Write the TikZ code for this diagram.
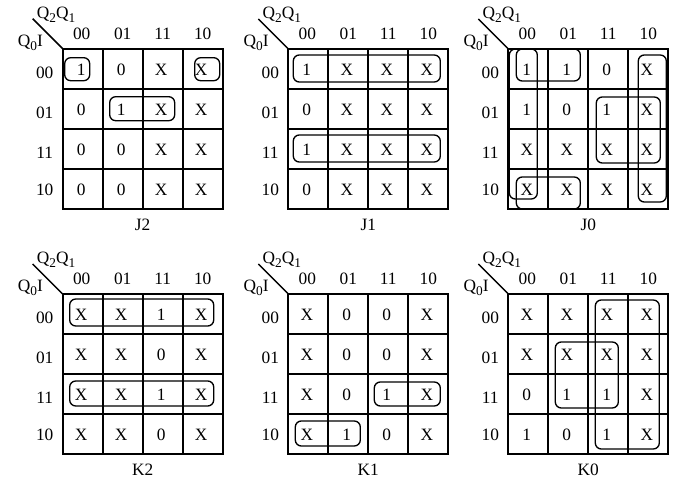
\documentclass[tikz,border=0pt]{standalone}
\usepackage{fontspec}
\setmainfont{Liberation Serif}
\newcommand{\lsub}[1]{\raisebox{-3pt}{\fontsize{10}{12}\selectfont #1}}
\tikzset{val/.style = {inner sep=0pt, font=\fontsize{13}{15}\selectfont},
         gl/.style = {line width=1.5pt},
         lp/.style = {line width=1pt, rounded corners=4.5pt},
         kmap/.pic = {
           \draw[gl] (0,0) rectangle (160,160) (40,0) -- (40,160) (80,0) -- (80,160) (120,0) -- (120,160)
                     (0,40) -- (160,40) (0,80) -- (160,80) (0,120) -- (160,120);
           \draw[line width=1.1pt] (-30,-30) -- (0,0);
           \node[val, anchor=base west] (-top) at (-26,-30) {Q\lsub{2}Q\lsub{1}};
           \node[val, anchor=base west] (-side) at (-45,-2) {Q\lsub{0}I};
           \node[val] (-ca) at (19,-15) {00}; \node[val] (-cb) at (60,-15) {01};
           \node[val] (-cc) at (100,-15) {11}; \node[val] (-cd) at (140,-15) {10};
           \node[val] (-ra) at (-18,24) {00}; \node[val] (-rb) at (-18,64) {01};
           \node[val] (-rc) at (-18,104) {11}; \node[val] (-rd) at (-18,141) {10};
           \node[val] (-t) at (80,176) {#1};
         }}

\begin{document}
\begin{tikzpicture}[x=0.75pt, y=-0.75pt]
  \useasboundingbox (0,0) rectangle (690,488);
  \begin{scope}[shift={(62.7,48.7)}]
    \pic (j2) {kmap=J2};
    \node[val] (j2a) at (18.5,21) {1}; \node[val] (j2b) at (58.5,21) {0}; \node[val] (j2c) at (98.5,21) {X}; \node[val] (j2d) at (138.5,21) {X};
    \node[val] (j2e) at (18.5,61) {0}; \node[val] (j2f) at (58.5,61) {1}; \node[val] (j2g) at (98.5,61) {X}; \node[val] (j2h) at (138.5,61) {X};
    \node[val] (j2i) at (18.5,101) {0}; \node[val] (j2j) at (58.5,101) {0}; \node[val] (j2k) at (98.5,101) {X}; \node[val] (j2l) at (138.5,101) {X};
    \node[val] (j2m) at (18.5,141) {0}; \node[val] (j2n) at (58.5,141) {0}; \node[val] (j2o) at (98.5,141) {X}; \node[val] (j2p) at (138.5,141) {X};
    \draw[lp] (2,9) rectangle (27,32);
    \draw[lp] (132,9) rectangle (157,32);
    \draw[lp] (47,48) rectangle (112,72);
  \end{scope}
  \begin{scope}[shift={(288.3,49)}]
    \pic (j1) {kmap=J1};
    \node[val] (j1a) at (18.5,21) {1}; \node[val] (j1b) at (58.5,21) {X}; \node[val] (j1c) at (98.5,21) {X}; \node[val] (j1d) at (138.5,21) {X};
    \node[val] (j1e) at (18.5,61) {0}; \node[val] (j1f) at (58.5,61) {X}; \node[val] (j1g) at (98.5,61) {X}; \node[val] (j1h) at (138.5,61) {X};
    \node[val] (j1i) at (18.5,101) {1}; \node[val] (j1j) at (58.5,101) {X}; \node[val] (j1k) at (98.5,101) {X}; \node[val] (j1l) at (138.5,101) {X};
    \node[val] (j1m) at (18.5,141) {0}; \node[val] (j1n) at (58.5,141) {X}; \node[val] (j1o) at (98.5,141) {X}; \node[val] (j1p) at (138.5,141) {X};
    \draw[lp] (5,6) rectangle (152,33);
    \draw[lp] (5,86) rectangle (152,113);
  \end{scope}
  \begin{scope}[shift={(508.3,49)}]
    \pic (j0) {kmap=J0};
    \node[val] (j0a) at (18.5,21) {1}; \node[val] (j0b) at (58.5,21) {1}; \node[val] (j0c) at (98.5,21) {0}; \node[val] (j0d) at (138.5,21) {X};
    \node[val] (j0e) at (18.5,61) {1}; \node[val] (j0f) at (58.5,61) {0}; \node[val] (j0g) at (98.5,61) {1}; \node[val] (j0h) at (138.5,61) {X};
    \node[val] (j0i) at (18.5,101) {X}; \node[val] (j0j) at (58.5,101) {X}; \node[val] (j0k) at (98.5,101) {X}; \node[val] (j0l) at (138.5,101) {X};
    \node[val] (j0m) at (18.5,141) {X}; \node[val] (j0n) at (58.5,141) {X}; \node[val] (j0o) at (98.5,141) {X}; \node[val] (j0p) at (138.5,141) {X};
    \draw[lp] (1,0) rectangle (29,150);
    \draw[lp] (8,0) rectangle (72,32);
    \draw[lp] (8,128) rectangle (72,160);
    \draw[lp] (130,6) rectangle (158,153);
    \draw[lp] (88,48) rectangle (152,114);
  \end{scope}
  \begin{scope}[shift={(62.7,294)}]
    \pic (k2) {kmap=K2};
    \node[val] (k2a) at (18.5,21) {X}; \node[val] (k2b) at (58.5,21) {X}; \node[val] (k2c) at (98.5,21) {1}; \node[val] (k2d) at (138.5,21) {X};
    \node[val] (k2e) at (18.5,61) {X}; \node[val] (k2f) at (58.5,61) {X}; \node[val] (k2g) at (98.5,61) {0}; \node[val] (k2h) at (138.5,61) {X};
    \node[val] (k2i) at (18.5,101) {X}; \node[val] (k2j) at (58.5,101) {X}; \node[val] (k2k) at (98.5,101) {1}; \node[val] (k2l) at (138.5,101) {X};
    \node[val] (k2m) at (18.5,141) {X}; \node[val] (k2n) at (58.5,141) {X}; \node[val] (k2o) at (98.5,141) {0}; \node[val] (k2p) at (138.5,141) {X};
    \draw[lp] (7,5) rectangle (151,32);
    \draw[lp] (7,87) rectangle (151,112);
  \end{scope}
  \begin{scope}[shift={(288.3,294)}]
    \pic (k1) {kmap=K1};
    \node[val] (k1a) at (18.5,21) {X}; \node[val] (k1b) at (58.5,21) {0}; \node[val] (k1c) at (98.5,21) {0}; \node[val] (k1d) at (138.5,21) {X};
    \node[val] (k1e) at (18.5,61) {X}; \node[val] (k1f) at (58.5,61) {0}; \node[val] (k1g) at (98.5,61) {0}; \node[val] (k1h) at (138.5,61) {X};
    \node[val] (k1i) at (18.5,101) {X}; \node[val] (k1j) at (58.5,101) {0}; \node[val] (k1k) at (98.5,101) {1}; \node[val] (k1l) at (138.5,101) {X};
    \node[val] (k1m) at (18.5,141) {X}; \node[val] (k1n) at (58.5,141) {1}; \node[val] (k1o) at (98.5,141) {0}; \node[val] (k1p) at (138.5,141) {X};
    \draw[lp] (86,88) rectangle (152,112);
    \draw[lp] (7,127) rectangle (72,152);
  \end{scope}
  \begin{scope}[shift={(508.3,294)}]
    \pic (k0) {kmap=K0};
    \node[val] (k0a) at (18.5,21) {X}; \node[val] (k0b) at (58.5,21) {X}; \node[val] (k0c) at (98.5,21) {X}; \node[val] (k0d) at (138.5,21) {X};
    \node[val] (k0e) at (18.5,61) {X}; \node[val] (k0f) at (58.5,61) {X}; \node[val] (k0g) at (98.5,61) {X}; \node[val] (k0h) at (138.5,61) {X};
    \node[val] (k0i) at (18.5,101) {0}; \node[val] (k0j) at (58.5,101) {1}; \node[val] (k0k) at (98.5,101) {1}; \node[val] (k0l) at (138.5,101) {X};
    \node[val] (k0m) at (18.5,141) {1}; \node[val] (k0n) at (58.5,141) {0}; \node[val] (k0o) at (98.5,141) {1}; \node[val] (k0p) at (138.5,141) {X};
    \draw[lp] (87,6) rectangle (151,155);
    \draw[lp] (47,48) rectangle (110,114);
  \end{scope}
\end{tikzpicture}
\end{document}
